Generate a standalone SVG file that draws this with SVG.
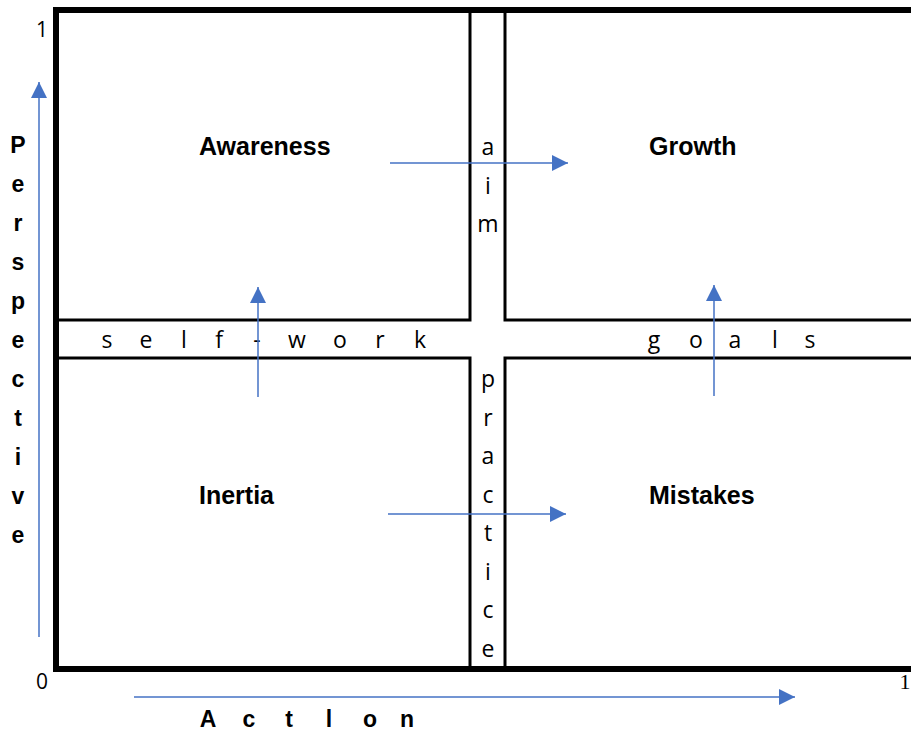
<svg xmlns="http://www.w3.org/2000/svg" width="911" height="733" viewBox="0 0 911 733">
  <style>
    .frame { fill: none; stroke: #000; stroke-width: 6; }
    .box { fill: none; stroke: #000; stroke-width: 3; }
    .title { font-family: "Liberation Sans", Arial, sans-serif; font-weight: bold; font-size: 25px; fill: #000; }
    .ch { font-family: "Open Sans", "Liberation Sans", sans-serif; font-size: 23px; fill: #000; text-anchor: middle; }
    .ax { font-family: "Liberation Sans", Arial, sans-serif; font-weight: bold; font-size: 23px; fill: #000; text-anchor: middle; }
    .tick { font-family: "Open Sans", "Liberation Sans", sans-serif; font-size: 21px; fill: #000; text-anchor: middle; }
    .tick-serif { font-family: "Liberation Serif", "Times New Roman", serif; font-size: 22px; fill: #000; text-anchor: middle; }
    .arrow { stroke: #4472C4; stroke-width: 1.5; fill: none; marker-end: url(#head); }
  </style>
  <defs>
    <marker id="head" markerUnits="userSpaceOnUse" markerWidth="16" markerHeight="16" refX="16" refY="8" orient="auto">
      <path d="M0,0 L16,8 L0,16 Z" fill="#4472C4"/>
    </marker>
  </defs>

  <rect width="911" height="733" fill="#fff"/>

  <!-- outer frame: left, top and bottom edges run off the right side -->
  <path class="frame" d="M914,10 H56 V669 H914"/>

  <!-- quadrants -->
  <g id="awareness">
    <path class="box" d="M470,10 V320 H56"/>
    <text class="title" x="199" y="155">Awareness</text>
  </g>
  <g id="growth">
    <path class="box" d="M505,10 V320 H914"/>
    <text class="title" x="649" y="155">Growth</text>
  </g>
  <g id="inertia">
    <path class="box" d="M56,358 H470 V669"/>
    <text class="title" x="199" y="504">Inertia</text>
  </g>
  <g id="mistakes">
    <path class="box" d="M914,358 H505 V669"/>
    <text class="title" x="649" y="504">Mistakes</text>
  </g>

  <!-- channel labels -->
  <g id="aim">
    <text class="ch" x="488" y="155">a</text>
    <text class="ch" x="488" y="194">i</text>
    <text class="ch" x="488" y="232">m</text>
  </g>
  <g id="practice">
    <text class="ch" x="488" y="387">p</text>
    <text class="ch" x="488" y="426">r</text>
    <text class="ch" x="488" y="464">a</text>
    <text class="ch" x="488" y="503">c</text>
    <text class="ch" x="488" y="541">t</text>
    <text class="ch" x="488" y="580">i</text>
    <text class="ch" x="488" y="618">c</text>
    <text class="ch" x="488" y="657">e</text>
  </g>
  <g id="self-work">
    <text class="ch" x="107" y="348">s</text>
    <text class="ch" x="146" y="348">e</text>
    <text class="ch" x="184" y="348">l</text>
    <text class="ch" x="219" y="348">f</text>
    <text class="ch" x="257" y="348">-</text>
    <text class="ch" x="297" y="348">w</text>
    <text class="ch" x="340" y="348">o</text>
    <text class="ch" x="380" y="348">r</text>
    <text class="ch" x="420" y="348">k</text>
  </g>
  <g id="goals">
    <text class="ch" x="654" y="348">g</text>
    <text class="ch" x="696" y="348">o</text>
    <text class="ch" x="735" y="348">a</text>
    <text class="ch" x="775" y="348">l</text>
    <text class="ch" x="810" y="348">s</text>
  </g>

  <!-- axes labels -->
  <g id="perspective">
    <text class="ax" x="18" y="153">P</text>
    <text class="ax" x="18" y="192">e</text>
    <text class="ax" x="18" y="231">r</text>
    <text class="ax" x="18" y="270">s</text>
    <text class="ax" x="18" y="309">p</text>
    <text class="ax" x="18" y="348">e</text>
    <text class="ax" x="18" y="387">c</text>
    <text class="ax" x="18" y="426">t</text>
    <text class="ax" x="18" y="465">i</text>
    <text class="ax" x="18" y="504">v</text>
    <text class="ax" x="18" y="543">e</text>
  </g>
  <g id="action">
    <text class="ax" x="208" y="727">A</text>
    <text class="ax" x="249" y="727">c</text>
    <text class="ax" x="289" y="727">t</text>
    <text class="ax" x="329" y="727">l</text>
    <text class="ax" x="370" y="727">o</text>
    <text class="ax" x="407" y="727">n</text>
  </g>
  <g id="ticks">
    <text class="tick" x="42" y="37">1</text>
    <text class="tick" x="42" y="689">0</text>
    <text class="tick-serif" x="905" y="689">1</text>
  </g>

  <!-- connectors -->
  <g id="connectors">
    <line class="arrow" x1="39" y1="637" x2="39" y2="82"/>
    <line class="arrow" x1="134" y1="697" x2="795" y2="697"/>
    <line class="arrow" x1="390" y1="163" x2="568" y2="163"/>
    <line class="arrow" x1="388" y1="514" x2="566" y2="514"/>
    <line class="arrow" x1="258" y1="397" x2="258" y2="287"/>
    <line class="arrow" x1="714" y1="396" x2="714" y2="285"/>
  </g>
</svg>
